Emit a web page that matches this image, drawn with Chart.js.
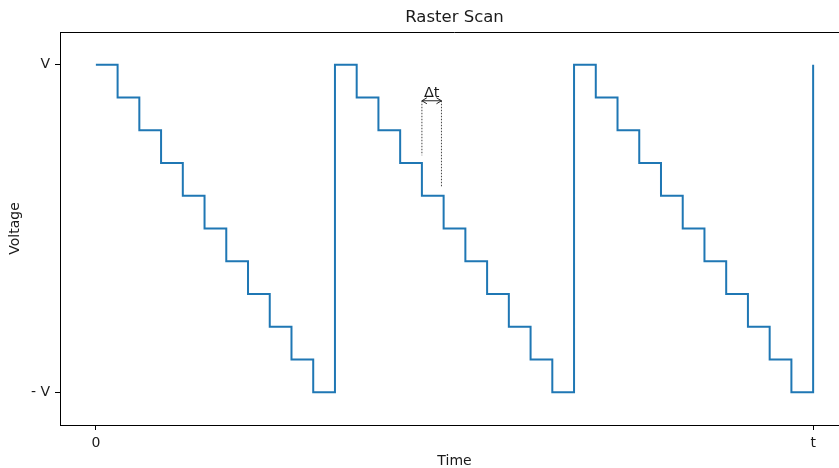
<!DOCTYPE html>
<html>
<head>
<meta charset="utf-8">
<script src="https://cdn.jsdelivr.net/npm/chart.js@4/dist/chart.umd.min.js"></script>
<style>
    html, body { margin: 0; padding: 0; background: #fff; overflow: hidden; }
    #wrap { width: 860px; height: 468px; }
</style>
</head>
<body>
<div id="wrap"><canvas id="chart" width="860" height="468"></canvas></div>
<script>
const TITLE = "Raster Scan",
    LABEL_X_AXIS = "Time",
    LABEL_Y_AXIS = "Voltage",
    LINE_COLOR = "#1f77b4",
    AXIS_COLOR = "#000000",
    TEXT_COLOR = "#1a1a1a",
    FONT_FAMILY = "'DejaVu Sans', sans-serif";

// time in steps (one step = one raster line), voltage in units of V
const TIME_STEPS = [
    0, 1, 2, 3, 4, 5, 6, 7, 8, 9, 10,
    11, 12, 13, 14, 15, 16, 17, 18, 19, 20, 21,
    22, 23, 24, 25, 26, 27, 28, 29, 30, 31, 32,
    33
];
const VOLTAGE = [
    1, 0.8, 0.6, 0.4, 0.2, 0, -0.2, -0.4, -0.6, -0.8, -1,
    1, 0.8, 0.6, 0.4, 0.2, 0, -0.2, -0.4, -0.6, -0.8, -1,
    1, 0.8, 0.6, 0.4, 0.2, 0, -0.2, -0.4, -0.6, -0.8, -1,
    1
];

const X_TICKS = [0, 33];
const X_TICK_LABELS = ["0", "t"];
const Y_TICKS = [-1, 1];
const Y_TICK_LABELS = ["- V", "V"];

// delta t marker
const DT_X = [15, 15.9];
const DT_Y_TOP = [0.78, 0.78];
const DT_Y_BOTTOM = [0.447, 0.257];
const DT_LABEL = "Δt";

function buildPoints(xs, ys) {
    let points = [];
    for (let i = 0; i < xs.length; i++) {
        points.push({x: xs[i], y: ys[i]});
    }
    return points;
}

function dottedSet(i) {
    return {
        data: [{x: DT_X[i], y: DT_Y_TOP[i]}, {x: DT_X[i], y: DT_Y_BOTTOM[i]}],
        borderColor: "#444444",
        borderWidth: 1,
        borderDash: [1.5, 1.5],
        pointRadius: 0,
        fill: false,
    };
}

function arrowHead(ctx, x, y, dir) {
    ctx.beginPath();
    ctx.moveTo(x + dir * 5, y - 3);
    ctx.lineTo(x, y);
    ctx.lineTo(x + dir * 5, y + 3);
    ctx.stroke();
}

const framePlugin = {
    id: "frame",
    afterDatasetsDraw(chart) {
        const ctx = chart.ctx,
            area = chart.chartArea,
            xs = chart.scales.x,
            ys = chart.scales.y;
        ctx.save();
        ctx.strokeStyle = AXIS_COLOR;
        ctx.lineWidth = 1;
        ctx.beginPath();
        ctx.moveTo(area.left, Math.round(area.top) + 0.5);
        ctx.lineTo(area.right, Math.round(area.top) + 0.5);
        ctx.moveTo(Math.round(area.right) - 0.5, area.top);
        ctx.lineTo(Math.round(area.right) - 0.5, area.bottom);
        ctx.stroke();

        // arrow between the two dotted lines
        const x1 = xs.getPixelForValue(DT_X[0]),
            x2 = xs.getPixelForValue(DT_X[1]),
            y = ys.getPixelForValue(DT_Y_TOP[0]);
        ctx.strokeStyle = "#222222";
        ctx.beginPath();
        ctx.moveTo(x1, y);
        ctx.lineTo(x2, y);
        ctx.stroke();
        arrowHead(ctx, x1, y, 1);
        arrowHead(ctx, x2, y, -1);

        ctx.fillStyle = TEXT_COLOR;
        ctx.font = "14.5px " + FONT_FAMILY;
        ctx.textAlign = "center";
        ctx.textBaseline = "alphabetic";
        ctx.fillText(DT_LABEL, (x1 + x2) / 2, y - 4);

        ctx.font = "16.5px " + FONT_FAMILY;
        ctx.textBaseline = "middle";
        ctx.fillText(TITLE, (area.left + area.right) / 2, 18);
        ctx.restore();
    },
};

new Chart(document.getElementById("chart").getContext("2d"), {
    type: "line",
    data: {
        datasets: [
            {
                data: buildPoints(TIME_STEPS, VOLTAGE),
                borderColor: LINE_COLOR,
                borderWidth: 2,
                stepped: true,
                pointRadius: 0,
                fill: false,
            },
            dottedSet(0),
            dottedSet(1),
        ],
    },
    options: {
        responsive: false,
        animation: false,
        layout: {
            padding: {top: 32, right: 11, bottom: 0, left: 0},
        },
        plugins: {
            legend: {display: false},
            tooltip: {enabled: false},
        },
        scales: {
            x: {
                type: "linear",
                min: -1.65,
                max: 34.65,
                afterBuildTicks: (axis) => {
                    axis.ticks = X_TICKS.map((v) => ({value: v}));
                },
                afterFit: (axis) => {
                    axis.height = 43;
                },
                ticks: {
                    autoSkip: false,
                    maxRotation: 0,
                    padding: 5,
                    color: TEXT_COLOR,
                    font: {family: FONT_FAMILY, size: 14},
                    callback: (value, index) => X_TICK_LABELS[index],
                },
                grid: {
                    drawOnChartArea: false,
                    drawTicks: true,
                    tickLength: 5,
                    color: AXIS_COLOR,
                },
                border: {color: AXIS_COLOR, width: 1},
                title: {
                    display: true,
                    text: LABEL_X_AXIS,
                    color: TEXT_COLOR,
                    font: {family: FONT_FAMILY, size: 14, lineHeight: 1},
                    padding: {top: 0, bottom: 0},
                },
            },
            y: {
                type: "linear",
                min: -1.2,
                max: 1.2,
                afterBuildTicks: (axis) => {
                    axis.ticks = Y_TICKS.map((v) => ({value: v}));
                },
                afterFit: (axis) => {
                    axis.width = 60;
                },
                ticks: {
                    autoSkip: false,
                    padding: 5,
                    color: TEXT_COLOR,
                    font: {family: FONT_FAMILY, size: 14},
                    callback: (value, index) => Y_TICK_LABELS[index],
                },
                grid: {
                    drawOnChartArea: false,
                    drawTicks: true,
                    tickLength: 5,
                    color: AXIS_COLOR,
                },
                border: {color: AXIS_COLOR, width: 1},
                title: {
                    display: true,
                    text: LABEL_Y_AXIS,
                    color: TEXT_COLOR,
                    font: {family: FONT_FAMILY, size: 14, lineHeight: 1},
                    padding: {top: 8.5, bottom: 0},
                },
            },
        },
    },
    plugins: [framePlugin],
});
</script>
</body>
</html>
